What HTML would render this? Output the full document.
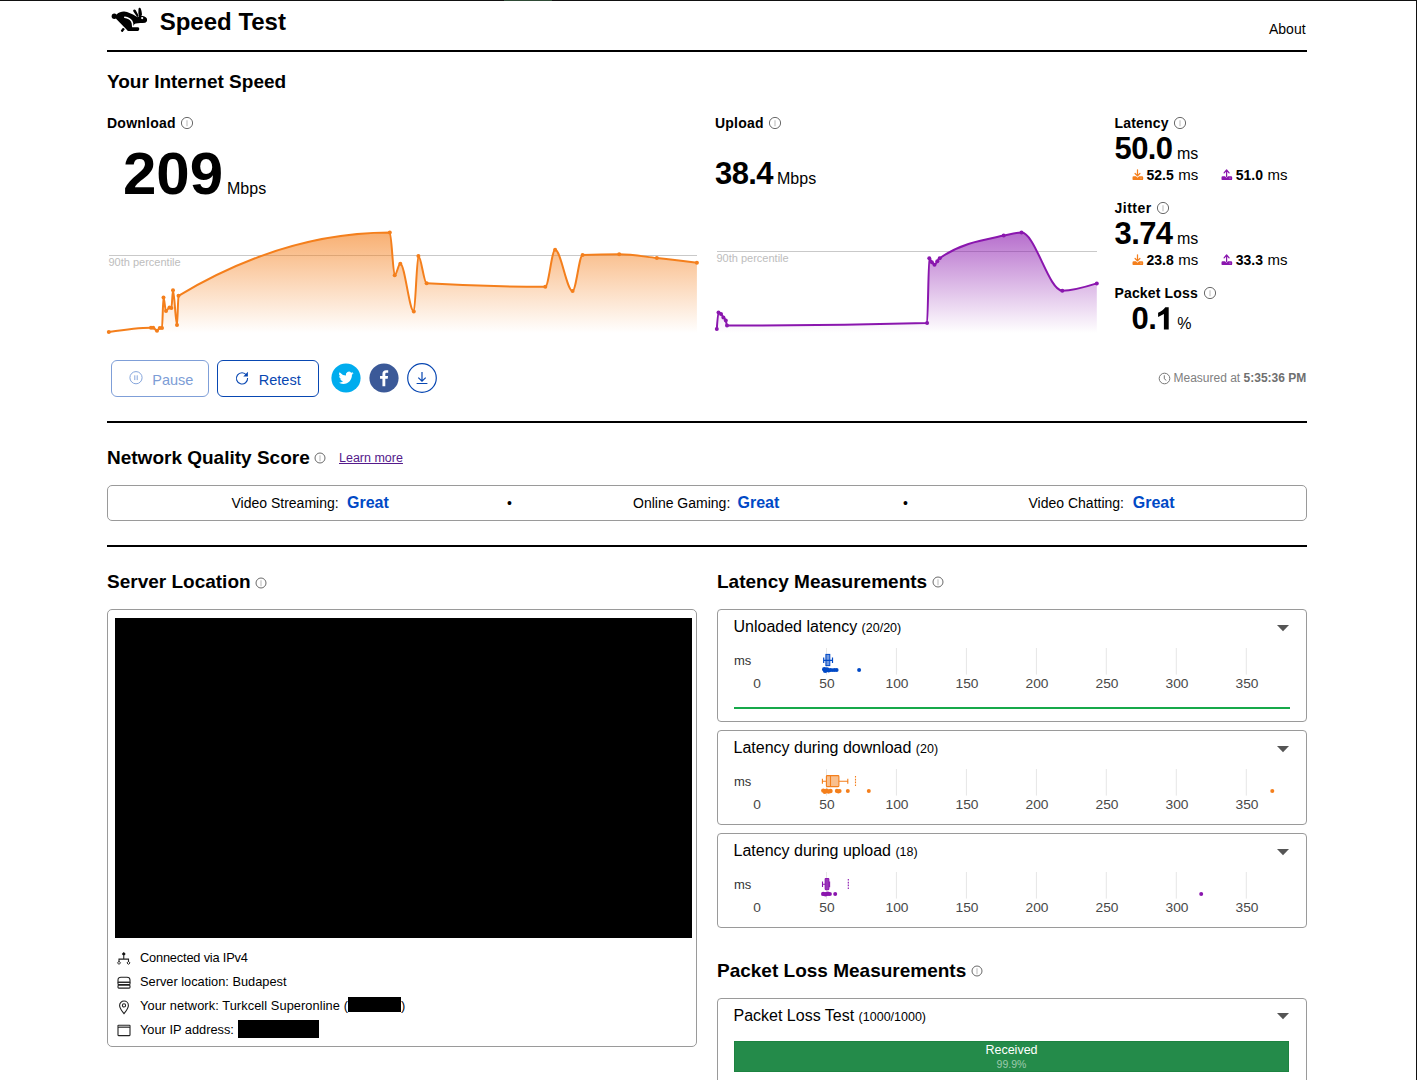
<!DOCTYPE html>
<html><head><meta charset="utf-8"><title>Speed Test</title>
<style>
html,body{margin:0;padding:0;background:#fff;}
body{width:1417px;height:1080px;overflow:hidden;position:relative;font-family:"Liberation Sans", sans-serif;}
.t{position:absolute;white-space:nowrap;}
.a{position:absolute;overflow:visible;}
</style></head><body>
<svg class="a" style="left:108px;top:4px" width="44" height="32" viewBox="0 0 1417 1031">
<g fill="#000">
<circle cx="203" cy="394" r="86"/>
<path d="M283 330 C345 262 440 235 520 238 C640 248 780 318 900 392 L960 428 L1000 388 C1090 358 1200 392 1248 458 C1272 520 1258 585 1198 602 C1100 614 980 606 900 626 C860 640 835 662 825 690 L792 722 L792 748 L975 750 C1020 765 1020 852 965 868 L660 868 C628 862 612 842 598 822 L282 498 C240 470 230 400 283 330 Z"/>
<path d="M468 778 C490 770 520 790 540 815 L470 905 C440 905 415 880 412 855 Z"/>
<path d="M812 198 C830 165 875 175 895 200 L985 370 L945 428 L828 255 C812 235 806 215 812 198 Z"/>
<path d="M982 165 C990 112 1040 112 1057 150 C1082 220 1098 300 1092 365 L1000 425 L978 300 Z"/>
</g>
<path d="M540 428 C620 440 715 478 765 555 C795 605 797 660 797 725" fill="none" stroke="#fff" stroke-width="50" stroke-linecap="round"/>
<circle cx="1101" cy="455" r="36" fill="#fff"/>
</svg>
<div class="t" style="left:159.7px;top:9.68px;font-size:24px;line-height:24px;font-weight:700;color:#000;">Speed Test</div>
<div class="t" style="left:1269px;top:22.15px;font-size:14px;line-height:14px;font-weight:400;color:#000;">About</div>
<div style="position:absolute;left:107px;top:50px;width:1200px;height:2px;background:#000"></div>
<div class="t" style="left:107px;top:71.52px;font-size:19px;line-height:19px;font-weight:700;color:#000;">Your Internet Speed</div>
<div class="t" style="left:107px;top:115.95px;font-size:14px;line-height:14px;font-weight:700;color:#000;letter-spacing:0.25px">Download</div>
<svg class="a" style="left:179px;top:115px" width="16" height="16" viewBox="0 0 16 16"><circle cx="8" cy="8" r="5.6" fill="none" stroke="#6a6a6a" stroke-width="1"/><path d="M8 5.2v6" stroke="#c8c8c8" stroke-width="1.3"/></svg>
<div class="t" style="left:123px;top:143.91px;font-size:60px;line-height:60px;font-weight:700;color:#000;">209</div>
<div class="t" style="left:227px;top:181.46px;font-size:16px;line-height:16px;font-weight:400;color:#000;">Mbps</div>
<div class="t" style="left:715px;top:116.15px;font-size:14px;line-height:14px;font-weight:700;color:#000;letter-spacing:0.2px">Upload</div>
<svg class="a" style="left:767px;top:115px" width="16" height="16" viewBox="0 0 16 16"><circle cx="8" cy="8" r="5.6" fill="none" stroke="#6a6a6a" stroke-width="1"/><path d="M8 5.2v6" stroke="#c8c8c8" stroke-width="1.3"/></svg>
<div class="t" style="left:715px;top:157.76px;font-size:31px;line-height:31px;font-weight:700;color:#000;letter-spacing:-0.6px">38.4</div>
<div class="t" style="left:777px;top:171.46px;font-size:16px;line-height:16px;font-weight:400;color:#000;">Mbps</div>
<div class="t" style="left:1114.5px;top:115.95px;font-size:14px;line-height:14px;font-weight:700;color:#000;letter-spacing:0.2px">Latency</div>
<svg class="a" style="left:1172px;top:115px" width="16" height="16" viewBox="0 0 16 16"><circle cx="8" cy="8" r="5.6" fill="none" stroke="#6a6a6a" stroke-width="1"/><path d="M8 5.2v6" stroke="#c8c8c8" stroke-width="1.3"/></svg>
<div class="t" style="left:1114.5px;top:132.76px;font-size:31px;line-height:31px;font-weight:700;color:#000;letter-spacing:-0.6px">50.0</div>
<div class="t" style="left:1177px;top:146.06px;font-size:16px;line-height:16px;font-weight:400;color:#000;">ms</div>
<svg class="a" style="left:1131.5px;top:168.7px" width="12" height="12" viewBox="0 0 12 12"><path d="M5.5 0.8V6.4M3.1 4.5L5.5 6.9 7.9 4.5" fill="none" stroke="#f47f1c" stroke-width="1.25" stroke-linecap="round" stroke-linejoin="round"/><path d="M0.5 8.5Q0.5 7.3 1.7 7.3H4L5.5 8.7 7 7.3H10Q11.2 7.3 11.2 8.5V9.9Q11.2 11.1 10 11.1H1.7Q0.5 11.1 0.5 9.9Z" fill="#f47f1c"/><circle cx="9" cy="9.1" r="0.6" fill="#fff" fill-opacity="0.6"/></svg>
<div class="t" style="left:1146.5px;top:167.85px;font-size:14px;line-height:14px;font-weight:700;color:#000;">52.5</div>
<div class="t" style="left:1178.3px;top:167.00px;font-size:15px;line-height:15px;font-weight:400;color:#000;">ms</div>
<svg class="a" style="left:1220.5px;top:168.7px" width="12" height="12" viewBox="0 0 12 12"><path d="M5.6 7.6V1.2M3.1 3.8L5.6 1 8.1 3.8" fill="none" stroke="#8a16ae" stroke-width="1.25" stroke-linecap="round" stroke-linejoin="round"/><path d="M0.5 8.5Q0.5 7.3 1.7 7.3H4L5.5 8.7 7 7.3H10Q11.2 7.3 11.2 8.5V9.9Q11.2 11.1 10 11.1H1.7Q0.5 11.1 0.5 9.9Z" fill="#8a16ae"/><circle cx="9" cy="9.1" r="0.6" fill="#fff" fill-opacity="0.6"/></svg>
<div class="t" style="left:1235.8px;top:167.85px;font-size:14px;line-height:14px;font-weight:700;color:#000;">51.0</div>
<div class="t" style="left:1267.6px;top:167.00px;font-size:15px;line-height:15px;font-weight:400;color:#000;">ms</div>
<div class="t" style="left:1114.5px;top:201.05px;font-size:14px;line-height:14px;font-weight:700;color:#000;letter-spacing:0.5px">Jitter</div>
<svg class="a" style="left:1155px;top:200px" width="16" height="16" viewBox="0 0 16 16"><circle cx="8" cy="8" r="5.6" fill="none" stroke="#6a6a6a" stroke-width="1"/><path d="M8 5.2v6" stroke="#c8c8c8" stroke-width="1.3"/></svg>
<div class="t" style="left:1114.5px;top:217.66px;font-size:31px;line-height:31px;font-weight:700;color:#000;letter-spacing:-0.6px">3.74</div>
<div class="t" style="left:1177px;top:230.96px;font-size:16px;line-height:16px;font-weight:400;color:#000;">ms</div>
<svg class="a" style="left:1131.5px;top:253.5px" width="12" height="12" viewBox="0 0 12 12"><path d="M5.5 0.8V6.4M3.1 4.5L5.5 6.9 7.9 4.5" fill="none" stroke="#f47f1c" stroke-width="1.25" stroke-linecap="round" stroke-linejoin="round"/><path d="M0.5 8.5Q0.5 7.3 1.7 7.3H4L5.5 8.7 7 7.3H10Q11.2 7.3 11.2 8.5V9.9Q11.2 11.1 10 11.1H1.7Q0.5 11.1 0.5 9.9Z" fill="#f47f1c"/><circle cx="9" cy="9.1" r="0.6" fill="#fff" fill-opacity="0.6"/></svg>
<div class="t" style="left:1146.5px;top:252.65px;font-size:14px;line-height:14px;font-weight:700;color:#000;">23.8</div>
<div class="t" style="left:1178.3px;top:251.80px;font-size:15px;line-height:15px;font-weight:400;color:#000;">ms</div>
<svg class="a" style="left:1220.5px;top:253.5px" width="12" height="12" viewBox="0 0 12 12"><path d="M5.6 7.6V1.2M3.1 3.8L5.6 1 8.1 3.8" fill="none" stroke="#8a16ae" stroke-width="1.25" stroke-linecap="round" stroke-linejoin="round"/><path d="M0.5 8.5Q0.5 7.3 1.7 7.3H4L5.5 8.7 7 7.3H10Q11.2 7.3 11.2 8.5V9.9Q11.2 11.1 10 11.1H1.7Q0.5 11.1 0.5 9.9Z" fill="#8a16ae"/><circle cx="9" cy="9.1" r="0.6" fill="#fff" fill-opacity="0.6"/></svg>
<div class="t" style="left:1235.8px;top:252.65px;font-size:14px;line-height:14px;font-weight:700;color:#000;">33.3</div>
<div class="t" style="left:1267.6px;top:251.80px;font-size:15px;line-height:15px;font-weight:400;color:#000;">ms</div>
<div class="t" style="left:1114.5px;top:285.75px;font-size:14px;line-height:14px;font-weight:700;color:#000;letter-spacing:0.15px">Packet Loss</div>
<svg class="a" style="left:1202px;top:285px" width="16" height="16" viewBox="0 0 16 16"><circle cx="8" cy="8" r="5.6" fill="none" stroke="#6a6a6a" stroke-width="1"/><path d="M8 5.2v6" stroke="#c8c8c8" stroke-width="1.3"/></svg>
<div class="t" style="left:1131.5px;top:303.16px;font-size:31px;line-height:31px;font-weight:700;color:#000;letter-spacing:-0.6px">0.</div>
<svg class="a" style="left:0;top:0" width="1417" height="400"><path d="M1163.9,329.4V314.1L1158.1,316.9V312.7C1161,311.5 1163.6,309.7 1165.3,307.3H1168.7V329.4Z" fill="#000"/></svg>
<div class="t" style="left:1177.3px;top:315.56px;font-size:16px;line-height:16px;font-weight:400;color:#000;">%</div>
<svg class="a" style="left:0;top:0" width="1417" height="400" viewBox="0 0 1417 400">
<defs><linearGradient id="gd" gradientUnits="userSpaceOnUse" x1="0" y1="232.6" x2="0" y2="333"><stop offset="0" stop-color="#f47f1c" stop-opacity="0.62"/><stop offset="1" stop-color="#f47f1c" stop-opacity="0"/></linearGradient></defs>
<path d="M109,255.5H697" stroke="#c9c9c9" stroke-width="1"/>
<path d="M108.80,332.10C122.87,329.90,136.93,327.70,151.00,327.70C151.73,327.70,152.47,327.70,153.20,327.70C154.47,327.70,155.73,330.80,157.00,330.80C157.93,330.80,158.87,328.18,159.80,328.10C160.53,328.03,161.27,328.07,162.00,328.00C162.50,327.95,163.00,297.60,163.50,297.60C164.33,297.60,165.17,311.00,166.00,311.00C167.17,311.00,168.33,307.60,169.50,307.60C170.13,307.60,170.77,308.10,171.40,308.10C171.93,308.10,172.47,290.30,173.00,290.30C174.33,290.30,175.67,325.00,177.00,325.00C177.50,325.00,178.00,296.10,178.50,295.80C248.93,253.67,319.37,232.60,389.80,232.60C391.43,232.60,393.07,275.20,394.70,275.20C396.57,275.20,398.43,263.80,400.30,263.80C404.80,263.80,409.30,311.50,413.80,311.50C415.33,311.50,416.87,256.10,418.40,256.10C421.13,256.10,423.87,283.14,426.60,283.30C466.17,285.63,505.73,286.80,545.30,286.80C548.57,286.80,551.83,249.80,555.10,249.80C560.93,249.80,566.77,291.00,572.60,291.00C575.93,291.00,579.27,255.01,582.60,254.90C594.80,254.50,607.00,254.30,619.20,254.30C631.73,254.30,644.27,256.64,656.80,258.00C670.17,259.45,683.53,261.13,696.90,262.80L696.90,333L108.80,333Z" fill="url(#gd)"/>
<path d="M108.80,332.10C122.87,329.90,136.93,327.70,151.00,327.70C151.73,327.70,152.47,327.70,153.20,327.70C154.47,327.70,155.73,330.80,157.00,330.80C157.93,330.80,158.87,328.18,159.80,328.10C160.53,328.03,161.27,328.07,162.00,328.00C162.50,327.95,163.00,297.60,163.50,297.60C164.33,297.60,165.17,311.00,166.00,311.00C167.17,311.00,168.33,307.60,169.50,307.60C170.13,307.60,170.77,308.10,171.40,308.10C171.93,308.10,172.47,290.30,173.00,290.30C174.33,290.30,175.67,325.00,177.00,325.00C177.50,325.00,178.00,296.10,178.50,295.80C248.93,253.67,319.37,232.60,389.80,232.60C391.43,232.60,393.07,275.20,394.70,275.20C396.57,275.20,398.43,263.80,400.30,263.80C404.80,263.80,409.30,311.50,413.80,311.50C415.33,311.50,416.87,256.10,418.40,256.10C421.13,256.10,423.87,283.14,426.60,283.30C466.17,285.63,505.73,286.80,545.30,286.80C548.57,286.80,551.83,249.80,555.10,249.80C560.93,249.80,566.77,291.00,572.60,291.00C575.93,291.00,579.27,255.01,582.60,254.90C594.80,254.50,607.00,254.30,619.20,254.30C631.73,254.30,644.27,256.64,656.80,258.00C670.17,259.45,683.53,261.13,696.90,262.80" fill="none" stroke="#f47f1c" stroke-width="2" stroke-linejoin="round"/>
<g fill="#f47f1c"><circle cx="108.80" cy="332.10" r="2"/><circle cx="151.00" cy="327.70" r="2"/><circle cx="153.20" cy="327.70" r="2"/><circle cx="157.00" cy="330.80" r="2"/><circle cx="159.80" cy="328.10" r="2"/><circle cx="162.00" cy="328.00" r="2"/><circle cx="163.50" cy="297.60" r="2"/><circle cx="166.00" cy="311.00" r="2"/><circle cx="169.50" cy="307.60" r="2"/><circle cx="171.40" cy="308.10" r="2"/><circle cx="173.00" cy="290.30" r="2"/><circle cx="177.00" cy="325.00" r="2"/><circle cx="178.50" cy="295.80" r="2"/><circle cx="389.80" cy="232.60" r="2"/><circle cx="394.70" cy="275.20" r="2"/><circle cx="400.30" cy="263.80" r="2"/><circle cx="413.80" cy="311.50" r="2"/><circle cx="418.40" cy="256.10" r="2"/><circle cx="426.60" cy="283.30" r="2"/><circle cx="545.30" cy="286.80" r="2"/><circle cx="555.10" cy="249.80" r="2"/><circle cx="572.60" cy="291.00" r="2"/><circle cx="582.60" cy="254.90" r="2"/><circle cx="619.20" cy="254.30" r="2"/><circle cx="656.80" cy="258.00" r="2"/><circle cx="696.90" cy="262.80" r="2"/></g>
</svg>
<div class="t" style="left:108.5px;top:256.79px;font-size:11px;line-height:11px;font-weight:400;color:#bdbdbd;">90th percentile</div>
<svg class="a" style="left:0;top:0" width="1417" height="400" viewBox="0 0 1417 400">
<defs><linearGradient id="gu" gradientUnits="userSpaceOnUse" x1="0" y1="232.6" x2="0" y2="333"><stop offset="0" stop-color="#8a16ae" stop-opacity="0.62"/><stop offset="1" stop-color="#8a16ae" stop-opacity="0"/></linearGradient></defs>
<path d="M717,251.5H1097" stroke="#c9c9c9" stroke-width="1"/>
<path d="M716.80,329.00C717.37,320.70,717.93,312.40,718.50,312.40C719.33,312.40,720.17,313.04,721.00,313.90C721.80,314.73,722.60,316.30,723.40,317.40C724.20,318.50,725.00,318.43,725.80,320.50C726.20,321.53,726.60,325.60,727.00,325.60C793.70,325.60,860.40,324.73,927.10,323.00C927.83,322.98,928.57,258.20,929.30,258.20C930.17,258.20,931.03,261.10,931.90,262.20C932.77,263.30,933.63,264.80,934.50,264.80C935.43,264.80,936.37,262.38,937.30,261.20C938.10,260.19,938.90,258.76,939.70,258.20C961.03,243.13,982.37,240.05,1003.70,235.60C1009.63,234.36,1015.57,232.60,1021.50,232.60C1035.10,232.60,1048.70,290.70,1062.30,290.70C1073.80,290.70,1085.30,287.05,1096.80,283.40L1096.80,333L716.80,333Z" fill="url(#gu)"/>
<path d="M716.80,329.00C717.37,320.70,717.93,312.40,718.50,312.40C719.33,312.40,720.17,313.04,721.00,313.90C721.80,314.73,722.60,316.30,723.40,317.40C724.20,318.50,725.00,318.43,725.80,320.50C726.20,321.53,726.60,325.60,727.00,325.60C793.70,325.60,860.40,324.73,927.10,323.00C927.83,322.98,928.57,258.20,929.30,258.20C930.17,258.20,931.03,261.10,931.90,262.20C932.77,263.30,933.63,264.80,934.50,264.80C935.43,264.80,936.37,262.38,937.30,261.20C938.10,260.19,938.90,258.76,939.70,258.20C961.03,243.13,982.37,240.05,1003.70,235.60C1009.63,234.36,1015.57,232.60,1021.50,232.60C1035.10,232.60,1048.70,290.70,1062.30,290.70C1073.80,290.70,1085.30,287.05,1096.80,283.40" fill="none" stroke="#8a16ae" stroke-width="2" stroke-linejoin="round"/>
<g fill="#8a16ae"><circle cx="716.80" cy="329.00" r="2"/><circle cx="718.50" cy="312.40" r="2"/><circle cx="721.00" cy="313.90" r="2"/><circle cx="723.40" cy="317.40" r="2"/><circle cx="725.80" cy="320.50" r="2"/><circle cx="727.00" cy="325.60" r="2"/><circle cx="927.10" cy="323.00" r="2"/><circle cx="929.30" cy="258.20" r="2"/><circle cx="931.90" cy="262.20" r="2"/><circle cx="934.50" cy="264.80" r="2"/><circle cx="937.30" cy="261.20" r="2"/><circle cx="939.70" cy="258.20" r="2"/><circle cx="1003.70" cy="235.60" r="2"/><circle cx="1021.50" cy="232.60" r="2"/><circle cx="1062.30" cy="290.70" r="2"/><circle cx="1096.80" cy="283.40" r="2"/></g>
</svg>
<div class="t" style="left:716.5px;top:253.29px;font-size:11px;line-height:11px;font-weight:400;color:#bdbdbd;">90th percentile</div>
<div style="position:absolute;left:111px;top:360px;width:96px;height:35px;border:1px solid #7f9fd8;border-radius:6px"></div>
<svg class="a" style="left:128px;top:370px" width="16" height="16" viewBox="0 0 16 16"><circle cx="8" cy="7.7" r="6.1" fill="none" stroke="#86a6dc" stroke-width="1"/><path d="M6.8 5.3v4.8M9.2 5.3v4.8" stroke="#86a6dc" stroke-width="1"/></svg>
<div class="t" style="left:152.3px;top:373.03px;font-size:14.5px;line-height:14.5px;font-weight:400;color:#7d9dd6;">Pause</div>
<div style="position:absolute;left:217px;top:360px;width:100px;height:35px;border:1px solid #0847b2;border-radius:6px"></div>
<svg class="a" style="left:234px;top:370px" width="16" height="16" viewBox="0 0 16 16"><path d="M12.6 5.2A5.6 5.6 0 1 0 13.6 8" fill="none" stroke="#0847b2" stroke-width="1.1"/><path d="M13.9 1.8v4.6H9.3z" fill="#0847b2"/></svg>
<div class="t" style="left:258.8px;top:373.03px;font-size:14.5px;line-height:14.5px;font-weight:400;color:#0847b2;">Retest</div>
<svg class="a" style="left:331px;top:363px" width="30" height="30" viewBox="0 0 30 30"><circle cx="15" cy="15" r="14.6" fill="#00acee"/><path fill="#fff" d="M22.5 10.1c-.55.25-1.14.41-1.76.49.63-.38 1.12-.98 1.35-1.69-.59.35-1.25.61-1.95.75a3.07 3.07 0 0 0-5.23 2.8 8.72 8.72 0 0 1-6.33-3.21 3.07 3.07 0 0 0 .95 4.1c-.5-.02-.98-.15-1.39-.38v.04c0 1.49 1.06 2.73 2.46 3.01-.45.12-.93.14-1.39.05a3.07 3.07 0 0 0 2.87 2.13A6.16 6.16 0 0 1 7.5 19.6a8.7 8.7 0 0 0 4.7 1.38c5.64 0 8.73-4.67 8.73-8.73l-.01-.4c.6-.43 1.12-.97 1.53-1.6z"/></svg>
<svg class="a" style="left:369px;top:363px" width="30" height="30" viewBox="0 0 30 30"><circle cx="15" cy="15" r="14.6" fill="#3b5998"/><path fill="#fff" d="M16.3 23.2v-7.4h2.4l.35-2.8H16.3v-1.8c0-.8.25-1.4 1.4-1.4h1.5V7.3c-.26-.03-1.14-.1-2.16-.1-2.14 0-3.6 1.3-3.6 3.7v2.1h-2.4v2.8h2.4v7.4z"/></svg>
<svg class="a" style="left:407px;top:363px" width="30" height="30" viewBox="0 0 30 30"><circle cx="15" cy="15" r="14.3" fill="none" stroke="#0847b2" stroke-width="1.2"/><path d="M15 9v9.2M11.3 14.6L15 18.2 18.7 14.6M9.6 20.5h10.8" fill="none" stroke="#0847b2" stroke-width="1.2"/></svg>
<svg class="a" style="left:1158px;top:372px" width="13" height="13" viewBox="0 0 13 13"><circle cx="6.5" cy="6.5" r="5.3" fill="none" stroke="#777" stroke-width="1"/><path d="M6.3 3.3v3.5l2 1.6" fill="none" stroke="#777" stroke-width="1"/></svg>
<div class="t" style="left:1173.5px;top:371.74px;font-size:12px;line-height:12px;font-weight:400;color:#808080;">Measured at <b style="color:#6f6f6f">5:35:36 PM</b></div>
<div style="position:absolute;left:107px;top:421px;width:1200px;height:2px;background:#000"></div>
<div class="t" style="left:107px;top:447.62px;font-size:19px;line-height:19px;font-weight:700;color:#000;">Network Quality Score</div>
<svg class="a" style="left:312px;top:449.6px" width="16" height="16" viewBox="0 0 16 16"><circle cx="8" cy="8" r="5" fill="none" stroke="#6a6a6a" stroke-width="1"/><path d="M8 5.2v6" stroke="#c8c8c8" stroke-width="1.3"/></svg>
<div class="t" style="left:339px;top:451.82px;font-size:12.5px;line-height:12.5px;font-weight:400;color:#551a8b;text-decoration:underline">Learn more</div>
<div style="position:absolute;left:107px;top:485px;width:1198px;height:34px;border:1px solid #9a9a9a;border-radius:5px"></div>
<div class="t" style="left:231.5px;top:496.25px;font-size:14px;line-height:14px;font-weight:400;color:#000;">Video Streaming:</div>
<div class="t" style="left:347px;top:495.16px;font-size:16px;line-height:16px;font-weight:700;color:#0049c6;">Great</div>
<div class="t" style="left:507px;top:495.65px;font-size:14px;line-height:14px;font-weight:400;color:#000;">&bull;</div>
<div class="t" style="left:633px;top:496.25px;font-size:14px;line-height:14px;font-weight:400;color:#000;">Online Gaming:</div>
<div class="t" style="left:737.5px;top:495.16px;font-size:16px;line-height:16px;font-weight:700;color:#0049c6;">Great</div>
<div class="t" style="left:903px;top:495.65px;font-size:14px;line-height:14px;font-weight:400;color:#000;">&bull;</div>
<div class="t" style="left:1028.5px;top:496.25px;font-size:14px;line-height:14px;font-weight:400;color:#000;">Video Chatting:</div>
<div class="t" style="left:1132.8px;top:495.16px;font-size:16px;line-height:16px;font-weight:700;color:#0049c6;">Great</div>
<div style="position:absolute;left:107px;top:545px;width:1200px;height:2px;background:#000"></div>
<div class="t" style="left:107px;top:572.02px;font-size:19px;line-height:19px;font-weight:700;color:#000;">Server Location</div>
<svg class="a" style="left:253px;top:574.5px" width="16" height="16" viewBox="0 0 16 16"><circle cx="8" cy="8" r="5" fill="none" stroke="#6a6a6a" stroke-width="1"/><path d="M8 5.2v6" stroke="#c8c8c8" stroke-width="1.3"/></svg>
<div style="position:absolute;left:107px;top:609px;width:588px;height:436px;border:1px solid #9a9a9a;border-radius:5px"></div>
<div style="position:absolute;left:115px;top:618px;width:577px;height:320px;background:#000"></div>
<svg class="a" style="left:117px;top:951.5px" width="14" height="14" viewBox="0 0 14 14"><path d="M6.75 0.1L8.7 2 6.75 3.9 4.8 2z" fill="#111"/><path d="M6.75 3.4v3.7M2 10V7.1h9.5V10" fill="none" stroke="#222" stroke-width="1.1"/><path d="M2 9.4l1.5 1.5L2 12.4 0.5 10.9z" fill="none" stroke="#222" stroke-width="1"/><path d="M11.5 9.4l1.5 1.5-1.5 1.5L10 10.9z" fill="none" stroke="#222" stroke-width="1"/></svg>
<svg class="a" style="left:117px;top:975.5px" width="14" height="14" viewBox="0 0 14 14"><path d="M1 6.2V4C1 2.3 2.2 1.2 4 1.2H10C11.8 1.2 13 2.3 13 4V6.2Z" fill="none" stroke="#222" stroke-width="1.1"/><rect x="1" y="6.2" width="12" height="2.3" rx="0.6" fill="none" stroke="#222" stroke-width="1.1"/><rect x="1" y="9.3" width="12" height="2.8" rx="0.8" fill="none" stroke="#222" stroke-width="1.1"/></svg>
<svg class="a" style="left:117px;top:999.5px" width="14" height="14" viewBox="0 0 14 14"><path d="M7 13.6C5 11 2.6 8.2 2.6 5.4a4.4 4.4 0 0 1 8.8 0C11.4 8.2 9 11 7 13.6z" fill="none" stroke="#222" stroke-width="1.1"/><circle cx="7" cy="5.4" r="1.6" fill="none" stroke="#222" stroke-width="1.1"/></svg>
<svg class="a" style="left:117px;top:1024.3px" width="14" height="14" viewBox="0 0 14 14"><rect x="1" y="1.2" width="12" height="10.4" rx="0.6" fill="none" stroke="#222" stroke-width="1.1"/><path d="M1 3.2h12" stroke="#222" stroke-width="1.1"/><path d="M1.5 2.4h11" stroke="#999" stroke-width="0.8"/></svg>
<div class="t" style="left:140px;top:951.86px;font-size:12.8px;line-height:12.8px;font-weight:400;color:#000;letter-spacing:-0.18px">Connected via IPv4</div>
<div class="t" style="left:140px;top:975.86px;font-size:12.8px;line-height:12.8px;font-weight:400;color:#000;">Server location: Budapest</div>
<div class="t" style="left:140px;top:999.86px;font-size:12.8px;line-height:12.8px;font-weight:400;color:#000;letter-spacing:0.08px">Your network: Turkcell Superonline (</div>
<div style="position:absolute;left:348px;top:997px;width:53px;height:14.5px;background:#000"></div>
<div class="t" style="left:401px;top:999.86px;font-size:12.8px;line-height:12.8px;font-weight:400;color:#000;">)</div>
<div class="t" style="left:140px;top:1023.76px;font-size:12.8px;line-height:12.8px;font-weight:400;color:#000;">Your IP address: </div>
<div style="position:absolute;left:238px;top:1020px;width:81px;height:17.5px;background:#000"></div>
<div class="t" style="left:717px;top:571.82px;font-size:19px;line-height:19px;font-weight:700;color:#000;">Latency Measurements</div>
<svg class="a" style="left:929.5px;top:573.5px" width="16" height="16" viewBox="0 0 16 16"><circle cx="8" cy="8" r="5" fill="none" stroke="#6a6a6a" stroke-width="1"/><path d="M8 5.2v6" stroke="#c8c8c8" stroke-width="1.3"/></svg>
<div style="position:absolute;left:717px;top:609px;width:588px;height:111px;border:1px solid #9a9a9a;border-radius:4px"></div>
<div class="t" style="left:733.5px;top:619.26px;font-size:16px;line-height:16px;font-weight:400;color:#000;">Unloaded latency <span style="font-size:12.5px">(20/20)</span></div>
<svg class="a" style="left:1277px;top:625px" width="12" height="7" viewBox="0 0 12 7"><path d="M0 0h12L6 6.3z" fill="#555"/></svg>
<div class="t" style="left:734px;top:654.00px;font-size:13px;line-height:13px;font-weight:400;color:#333;">ms</div>
<div class="t" style="left:727.1px;width:60px;text-align:center;top:678.27px;font-size:12.2px;line-height:12.2px;color:#484848;transform:scaleX(1.13)">0</div>
<div class="t" style="left:797.1px;width:60px;text-align:center;top:678.27px;font-size:12.2px;line-height:12.2px;color:#484848;transform:scaleX(1.13)">50</div>
<div class="t" style="left:867.0px;width:60px;text-align:center;top:678.27px;font-size:12.2px;line-height:12.2px;color:#484848;transform:scaleX(1.13)">100</div>
<div class="t" style="left:937.0px;width:60px;text-align:center;top:678.27px;font-size:12.2px;line-height:12.2px;color:#484848;transform:scaleX(1.13)">150</div>
<div class="t" style="left:1007.0px;width:60px;text-align:center;top:678.27px;font-size:12.2px;line-height:12.2px;color:#484848;transform:scaleX(1.13)">200</div>
<div class="t" style="left:1076.9px;width:60px;text-align:center;top:678.27px;font-size:12.2px;line-height:12.2px;color:#484848;transform:scaleX(1.13)">250</div>
<div class="t" style="left:1146.9px;width:60px;text-align:center;top:678.27px;font-size:12.2px;line-height:12.2px;color:#484848;transform:scaleX(1.13)">300</div>
<div class="t" style="left:1216.9px;width:60px;text-align:center;top:678.27px;font-size:12.2px;line-height:12.2px;color:#484848;transform:scaleX(1.13)">350</div>
<svg class="a" style="left:0;top:609px" width="1417" height="113" viewBox="0 609 1417 113"><path d="M826.5,648V674.6" stroke="#e6e6e6" stroke-width="1"/><path d="M896.4,648V674.6" stroke="#e6e6e6" stroke-width="1"/><path d="M966.4,648V674.6" stroke="#e6e6e6" stroke-width="1"/><path d="M1036.4,648V674.6" stroke="#e6e6e6" stroke-width="1"/><path d="M1106.3,648V674.6" stroke="#e6e6e6" stroke-width="1"/><path d="M1176.3,648V674.6" stroke="#e6e6e6" stroke-width="1"/><path d="M1246.3,648V674.6" stroke="#e6e6e6" stroke-width="1"/><g fill="#0049c6" stroke="none">
<rect x="825.9" y="654.4" width="3.9" height="11.2" fill="#0049c6" fill-opacity="0.55" stroke="#0049c6" stroke-width="1"/>
<path d="M823.7 660.4H832.5M823.7 657.5V663M832.5 657.5V663" stroke="#0049c6" stroke-width="1.2" fill="none"/>
<circle cx="824.3" cy="669.3" r="2.3"/><circle cx="825.2" cy="670.7" r="2.3"/><circle cx="827" cy="669.6" r="2.3"/><circle cx="828.6" cy="670.4" r="2.1"/><circle cx="830.5" cy="669.9" r="2"/><circle cx="832.6" cy="670.1" r="1.9"/><circle cx="834.6" cy="670" r="1.9"/><circle cx="836.7" cy="670" r="1.9"/>
<circle cx="859.1" cy="669.9" r="2"/></g></svg>
<div style="position:absolute;left:734px;top:707px;width:556px;height:2px;background:#16a94a"></div>
<div style="position:absolute;left:717px;top:730px;width:588px;height:93px;border:1px solid #9a9a9a;border-radius:4px"></div>
<div class="t" style="left:733.5px;top:740.26px;font-size:16px;line-height:16px;font-weight:400;color:#000;">Latency during download <span style="font-size:12.5px">(20)</span></div>
<svg class="a" style="left:1277px;top:746px" width="12" height="7" viewBox="0 0 12 7"><path d="M0 0h12L6 6.3z" fill="#555"/></svg>
<div class="t" style="left:734px;top:775.00px;font-size:13px;line-height:13px;font-weight:400;color:#333;">ms</div>
<div class="t" style="left:727.1px;width:60px;text-align:center;top:799.27px;font-size:12.2px;line-height:12.2px;color:#484848;transform:scaleX(1.13)">0</div>
<div class="t" style="left:797.1px;width:60px;text-align:center;top:799.27px;font-size:12.2px;line-height:12.2px;color:#484848;transform:scaleX(1.13)">50</div>
<div class="t" style="left:867.0px;width:60px;text-align:center;top:799.27px;font-size:12.2px;line-height:12.2px;color:#484848;transform:scaleX(1.13)">100</div>
<div class="t" style="left:937.0px;width:60px;text-align:center;top:799.27px;font-size:12.2px;line-height:12.2px;color:#484848;transform:scaleX(1.13)">150</div>
<div class="t" style="left:1007.0px;width:60px;text-align:center;top:799.27px;font-size:12.2px;line-height:12.2px;color:#484848;transform:scaleX(1.13)">200</div>
<div class="t" style="left:1076.9px;width:60px;text-align:center;top:799.27px;font-size:12.2px;line-height:12.2px;color:#484848;transform:scaleX(1.13)">250</div>
<div class="t" style="left:1146.9px;width:60px;text-align:center;top:799.27px;font-size:12.2px;line-height:12.2px;color:#484848;transform:scaleX(1.13)">300</div>
<div class="t" style="left:1216.9px;width:60px;text-align:center;top:799.27px;font-size:12.2px;line-height:12.2px;color:#484848;transform:scaleX(1.13)">350</div>
<svg class="a" style="left:0;top:730px" width="1417" height="95" viewBox="0 730 1417 95"><path d="M826.5,769V795.6" stroke="#e6e6e6" stroke-width="1"/><path d="M896.4,769V795.6" stroke="#e6e6e6" stroke-width="1"/><path d="M966.4,769V795.6" stroke="#e6e6e6" stroke-width="1"/><path d="M1036.4,769V795.6" stroke="#e6e6e6" stroke-width="1"/><path d="M1106.3,769V795.6" stroke="#e6e6e6" stroke-width="1"/><path d="M1176.3,769V795.6" stroke="#e6e6e6" stroke-width="1"/><path d="M1246.3,769V795.6" stroke="#e6e6e6" stroke-width="1"/><g>
<rect x="826.4" y="775.6" width="12.5" height="11" fill="#f47f1c" fill-opacity="0.5" stroke="#f47f1c" stroke-width="1.1" rx="0.8"/>
<path d="M830.5 775.6V786.6M822.4 781.3H826.4M838.9 781.3H847.8M822.4 778.8V783.7M847.8 778.8V783.7" stroke="#f47f1c" stroke-width="1.1"/>
<path d="M855.5 776V787" stroke="#f47f1c" stroke-width="1.1" stroke-dasharray="1.6,1.2"/>
<g fill="#f47f1c"><circle cx="823.3" cy="790.6" r="2.2"/><circle cx="824.8" cy="791.8" r="2.2"/><circle cx="826.8" cy="790.8" r="2.2"/><circle cx="828.5" cy="791.6" r="2.2"/><circle cx="830.5" cy="791" r="2.2"/><circle cx="836.9" cy="790.9" r="2.1"/><circle cx="838.4" cy="791.5" r="2.1"/><circle cx="839.6" cy="791" r="2"/><circle cx="847.8" cy="791.1" r="2"/><circle cx="868.8" cy="791.1" r="2"/><circle cx="1272.3" cy="791.1" r="2"/></g></g></svg>
<div style="position:absolute;left:717px;top:833px;width:588px;height:93px;border:1px solid #9a9a9a;border-radius:4px"></div>
<div class="t" style="left:733.5px;top:843.26px;font-size:16px;line-height:16px;font-weight:400;color:#000;">Latency during upload <span style="font-size:12.5px">(18)</span></div>
<svg class="a" style="left:1277px;top:849px" width="12" height="7" viewBox="0 0 12 7"><path d="M0 0h12L6 6.3z" fill="#555"/></svg>
<div class="t" style="left:734px;top:878.00px;font-size:13px;line-height:13px;font-weight:400;color:#333;">ms</div>
<div class="t" style="left:727.1px;width:60px;text-align:center;top:902.27px;font-size:12.2px;line-height:12.2px;color:#484848;transform:scaleX(1.13)">0</div>
<div class="t" style="left:797.1px;width:60px;text-align:center;top:902.27px;font-size:12.2px;line-height:12.2px;color:#484848;transform:scaleX(1.13)">50</div>
<div class="t" style="left:867.0px;width:60px;text-align:center;top:902.27px;font-size:12.2px;line-height:12.2px;color:#484848;transform:scaleX(1.13)">100</div>
<div class="t" style="left:937.0px;width:60px;text-align:center;top:902.27px;font-size:12.2px;line-height:12.2px;color:#484848;transform:scaleX(1.13)">150</div>
<div class="t" style="left:1007.0px;width:60px;text-align:center;top:902.27px;font-size:12.2px;line-height:12.2px;color:#484848;transform:scaleX(1.13)">200</div>
<div class="t" style="left:1076.9px;width:60px;text-align:center;top:902.27px;font-size:12.2px;line-height:12.2px;color:#484848;transform:scaleX(1.13)">250</div>
<div class="t" style="left:1146.9px;width:60px;text-align:center;top:902.27px;font-size:12.2px;line-height:12.2px;color:#484848;transform:scaleX(1.13)">300</div>
<div class="t" style="left:1216.9px;width:60px;text-align:center;top:902.27px;font-size:12.2px;line-height:12.2px;color:#484848;transform:scaleX(1.13)">350</div>
<svg class="a" style="left:0;top:833px" width="1417" height="95" viewBox="0 833 1417 95"><path d="M826.5,872V898.6" stroke="#e6e6e6" stroke-width="1"/><path d="M896.4,872V898.6" stroke="#e6e6e6" stroke-width="1"/><path d="M966.4,872V898.6" stroke="#e6e6e6" stroke-width="1"/><path d="M1036.4,872V898.6" stroke="#e6e6e6" stroke-width="1"/><path d="M1106.3,872V898.6" stroke="#e6e6e6" stroke-width="1"/><path d="M1176.3,872V898.6" stroke="#e6e6e6" stroke-width="1"/><path d="M1246.3,872V898.6" stroke="#e6e6e6" stroke-width="1"/><g>
<rect x="825.2" y="878.5" width="3.6" height="11.2" fill="#8a16ae" fill-opacity="0.85" stroke="#8a16ae" stroke-width="1.1" rx="0.6"/>
<path d="M822.5 884.3H825.2M822.5 881.6V887M829.6 881.4V887.2" stroke="#8a16ae" stroke-width="1.1"/>
<path d="M848.3 879V890" stroke="#8a16ae" stroke-width="1.1" stroke-dasharray="1.6,1.2"/>
<g fill="#8a16ae"><circle cx="823.2" cy="893.9" r="2.2"/><circle cx="825.5" cy="894.2" r="2.3"/><circle cx="827.8" cy="893.8" r="2.3"/><circle cx="829.8" cy="894" r="2.1"/><circle cx="835.2" cy="893.9" r="2"/><circle cx="1201.2" cy="893.9" r="2"/></g></g></svg>
<div class="t" style="left:717px;top:960.62px;font-size:19px;line-height:19px;font-weight:700;color:#000;">Packet Loss Measurements</div>
<svg class="a" style="left:969px;top:962.5px" width="16" height="16" viewBox="0 0 16 16"><circle cx="8" cy="8" r="5" fill="none" stroke="#6a6a6a" stroke-width="1"/><path d="M8 5.2v6" stroke="#c8c8c8" stroke-width="1.3"/></svg>
<div style="position:absolute;left:717px;top:998px;width:588px;height:120px;border:1px solid #9a9a9a;border-radius:4px"></div>
<div class="t" style="left:733.5px;top:1008.06px;font-size:16px;line-height:16px;font-weight:400;color:#000;">Packet Loss Test <span style="font-size:12.5px">(1000/1000)</span></div>
<svg class="a" style="left:1277px;top:1013px" width="12" height="7" viewBox="0 0 12 7"><path d="M0 0h12L6 6.3z" fill="#555"/></svg>
<div style="position:absolute;left:734px;top:1041px;width:553px;height:29px;background:#248b4a;border:1px solid #1d8341"></div>
<div class="t" style="left:734px;width:555px;text-align:center;top:1044.32px;font-size:12.5px;line-height:12.5px;color:#fff">Received</div>
<div class="t" style="left:734px;width:555px;text-align:center;top:1058.91px;font-size:10.5px;line-height:10.5px;color:rgba(255,255,255,0.55)">99.9%</div>
<div style="position:absolute;left:0px;top:0px;width:1417px;height:1px;background:#111"></div>
<div style="position:absolute;left:1416px;top:0px;width:1px;height:1080px;background:#111"></div>
<div style="position:absolute;left:504px;top:0px;width:48px;height:1px;background:#2e4a35"></div>
</body></html>
